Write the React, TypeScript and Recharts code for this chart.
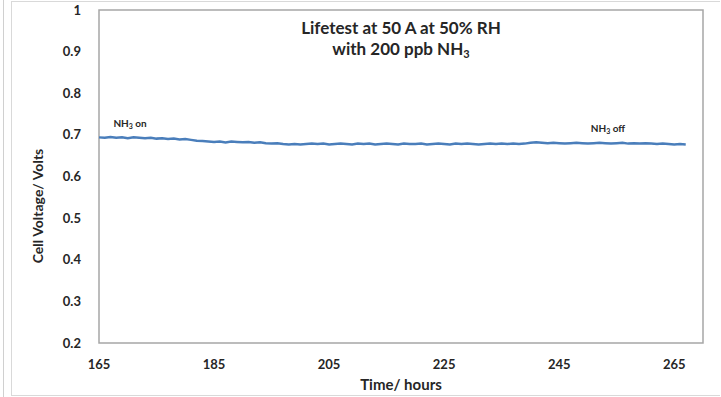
import React from 'react';
import { LineChart, Line, XAxis, YAxis, ReferenceArea, ReferenceDot } from 'recharts';

const hours = [
  165, 166, 167, 168, 169, 170, 171, 172, 173, 174, 175, 176, 177, 178, 179, 180, 181, 182, 183, 184,
  185, 186, 187, 188, 189, 190, 191, 192, 193, 194, 195, 196, 197, 198, 199, 200, 201, 202, 203, 204,
  205, 206, 207, 208, 209, 210, 211, 212, 213, 214, 215, 216, 217, 218, 219, 220, 221, 222, 223, 224,
  225, 226, 227, 228, 229, 230, 231, 232, 233, 234, 235, 236, 237, 238, 239, 240, 241, 242, 243, 244,
  245, 246, 247, 248, 249, 250, 251, 252, 253, 254, 255, 256, 257, 258, 259, 260, 261, 262, 263, 264,
  265, 266, 267,
];

const cellVoltage = [
  0.694, 0.693, 0.695, 0.693, 0.694, 0.692, 0.694, 0.693, 0.692, 0.693, 0.691, 0.692, 0.690, 0.691, 0.689, 0.690, 0.688, 0.686, 0.685, 0.684,
  0.683, 0.684, 0.682, 0.684, 0.683, 0.682, 0.683, 0.681, 0.682, 0.680, 0.679, 0.680, 0.678, 0.677, 0.678, 0.677, 0.678, 0.679, 0.678, 0.679,
  0.677, 0.678, 0.679, 0.678, 0.677, 0.679, 0.678, 0.679, 0.677, 0.678, 0.679, 0.678, 0.677, 0.679, 0.678, 0.678, 0.679, 0.677, 0.678, 0.679,
  0.678, 0.677, 0.679, 0.678, 0.679, 0.678, 0.677, 0.678, 0.679, 0.678, 0.679, 0.678, 0.679, 0.678, 0.679, 0.681, 0.682, 0.681, 0.680, 0.681,
  0.680, 0.679, 0.680, 0.681, 0.680, 0.679, 0.680, 0.681, 0.680, 0.679, 0.680, 0.681, 0.679, 0.680, 0.679, 0.680, 0.679, 0.678, 0.679, 0.678,
  0.677, 0.678, 0.677,
];

const xTicks = [165, 185, 205, 225, 245, 265];
const yTicks = [0.2, 0.3, 0.4, 0.5, 0.6, 0.7, 0.8, 0.9, 1];

const data = hours.map((h, i) => ({ time: h, voltage: cellVoltage[i] }));

const font = 'Lato, "Open Sans", sans-serif';
const tickStyle = { fontSize: 13, fontWeight: 700, fill: '#262626', fontFamily: font };

function Nh3Label({ viewBox, text }: any) {
  const { x, y } = viewBox;
  return (
    <text x={x} y={y} fontFamily={font} fontSize={10} fontWeight={700} fill="#262626">
      NH<tspan fontSize={7} dy={2}>3</tspan>
      <tspan dy={-2}>{' ' + text}</tspan>
    </text>
  );
}

export default function App() {
  return (
    <div style={{ position: 'absolute', left: 0, top: 0, width: 721, height: 397, background: '#fff' }}>
      {/* chart frame */}
      <div style={{ position: 'absolute', left: 3, top: 0, width: 1, height: 397, background: '#d0d0d0' }} />
      <div style={{ position: 'absolute', left: 11, top: 1, width: 709, height: 395, border: '1px solid #d9d9d9', borderRight: 'none', boxSizing: 'border-box' }} />
      <LineChart width={721} height={397} data={data} margin={{ top: 10, right: 18, bottom: 24, left: 39 }}>
        <XAxis
          dataKey="time"
          type="number"
          domain={[165, 270]}
          ticks={xTicks}
          axisLine={false}
          tickLine={false}
          tickSize={0}
          tickMargin={17}
          height={30}
          tick={tickStyle}
        />
        <YAxis
          type="number"
          domain={[0.2, 1]}
          ticks={yTicks}
          axisLine={false}
          tickLine={false}
          tickSize={0}
          tickMargin={18}
          width={60}
          tick={tickStyle}
        />
        <ReferenceArea x1={165} x2={270} y1={0.2} y2={1} fill="none" stroke="#a6a6a6" strokeWidth={1.5} />
        <Line
          dataKey="voltage"
          stroke="#4a7ebb"
          strokeWidth={2.5}
          dot={false}
          isAnimationActive={false}
        />
        <ReferenceDot x={167.5} y={0.72} r={0} label={<Nh3Label text="on" />} />
        <ReferenceDot x={250.5} y={0.707} r={0} label={<Nh3Label text="off" />} />
      </LineChart>
      <div style={{ position: 'absolute', left: 99, width: 604, top: 17, textAlign: 'center', fontFamily: font, fontSize: 17, fontWeight: 700, color: '#262626', lineHeight: '21px' }}>
        Lifetest at 50 A at 50% RH
        <br />
        with 200 ppb NH<sub style={{ fontSize: 11, verticalAlign: '-3px', lineHeight: 0 }}>3</sub>
      </div>
      <div style={{ position: 'absolute', left: 99, width: 604, top: 375, textAlign: 'center', fontFamily: font, fontSize: 15, fontWeight: 700, color: '#262626' }}>
        Time/ hours
      </div>
      <div style={{ position: 'absolute', left: 37, top: 206, transform: 'translate(-50%, -50%) rotate(-90deg)', whiteSpace: 'nowrap', fontFamily: font, fontSize: 14, fontWeight: 700, color: '#262626' }}>
        Cell Voltage/ Volts
      </div>
    </div>
  );
}
